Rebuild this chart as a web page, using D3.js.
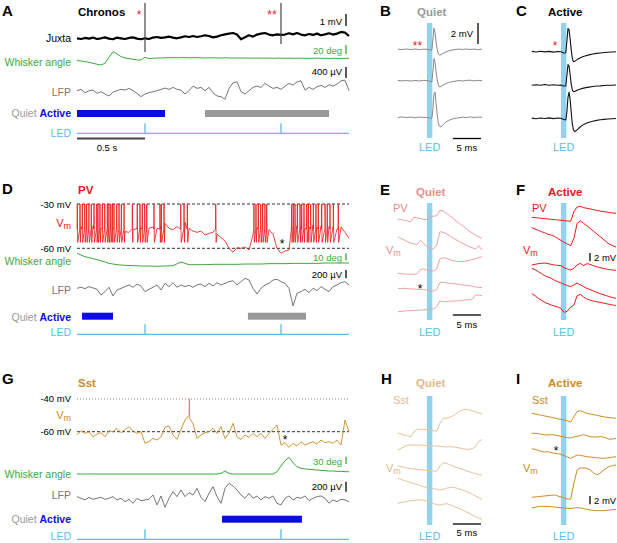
<!DOCTYPE html>
<html>
<head>
<meta charset="utf-8">
<script src="https://cdn.jsdelivr.net/npm/d3@7"></script>
<style>
  body { margin: 0; background: #fff; }
  text { font-family: "Liberation Sans", Arial, sans-serif; }
</style>
</head>
<body>
<script>
// ---------- long recordings (2 s, uniformly sampled) ----------
// A: Chronos juxtacellular
const juxtaMv = [0,-0.06,0.03,-0.03,0.06,-0.06,0,0.08,-0.03,-0.08,0.06,0,-0.06,0.03,0.08,-0.03,-0.08,0,-0.06,0.06,
  0.11,0.03,0.08,0.14,0.06,0,0.08,0.17,0.11,0.19,0.11,0.17,0.25,0.19,0.08,0.14,0.25,0.33,0.39,0.44,
  0.31,-0.08,0.08,0.25,0.14,0.31,0.39,0.44,0.31,0.25,0.33,0.28,0.31,0.42,0.33,0.44,0.31,0.25,0.36,0.28,
  0.39,0.25,0.33,0.42,0.31,0.39,0.53,0.47,0.19];
const juxtaSpikeS = [0.5, 1.5];
const juxtaSpikePeak = [2.94, 2.94];
const juxtaSpikeTrough = [-1.14, -0.48];
const whiskerA = [-5.2,-5.9,-7.4,-8.9,-11.1,-13.3,-14.8,-11.1,2.2,14.8,9.6,3.7,0.7,-0.7,-2.2,-3.7,-3.7,2.2,-0.7,0,0.7,
  0.7,1.1,1.5,1.5,1.1,1.5,1.5,1.1,1.1,1.5,1.1,0.7,1.1,1.1,0.7,0.7,1.1,0.7,0.7,0.4,
  0.7,0.7,0.4,0.4,0.7,0.4,0.4,0.4,0,0.4,0.4,0,0.4,0,0,0.4,0,0,0,0.4,0,0,-0.4,0,0,-0.4,0,0];
const lfpA = [36,84,-36,36,60,-60,0,-84,-156,-12,36,84,60,120,36,-60,-180,-84,-36,0,
  36,84,132,84,156,84,60,-84,36,204,120,156,36,156,-36,-156,-180,-276,120,324,
  360,0,-84,36,156,204,156,300,204,120,156,84,204,300,240,360,396,60,156,84,
  180,228,156,252,204,276,396,420,36];
const activeA = [[0, 0.647]];
const quietA = [[0.941, 1.853]];

// D: PV whole-cell
const pvVm = [-46.5,-45.3,-47.6,-46.0,-44.7,-47.6,-46.5,-45.6,-48.3,-46.5,-45.3,-47.1,-48.7,-49.2,-47.6,-46.5,-46.0,-47.4,-46.5,-45.6,
  -46.5,-44.7,-43.1,-46.5,-47.4,-45.3,-46.0,-42.4,-46.5,-48.3,-49.2,-48.3,-51.0,-49.9,-49.2,-50.5,-52.8,-55.0,-60.0,-62.7,
  -59.6,-60.0,-59.1,-61.1,-51.0,-46.0,-45.3,-46.5,-47.4,-50.5,-60.0,-63.4,-61.8,-61.1,-46.5,-44.7,-45.3,-46.5,-45.6,-44.2,
  -46.0,-44.9,-46.5,-45.3,-46.0,-46.9,-45.6,-49.2,-53.2];
const pvSpikeS = [0.002,0.022,0.039,0.057,0.071,0.088,0.105,0.125,0.145,0.154,0.169,0.186,0.204,0.223,0.235,0.248,0.260,0.272,0.292,0.309,0.326,0.346,
  0.407,0.443,0.463,0.480,0.498,0.513,0.566,0.610,0.620,0.640,0.763,0.787,0.811,1.020,
  1.301,1.316,1.333,1.351,1.365,1.382,1.395,
  1.578,1.590,1.603,1.620,1.640,1.652,1.669,1.689,1.701,1.718,1.738,1.757,1.774,1.799,1.824,1.840,1.860,1.885,1.921];
const pvSpikeThreshold = -47;
const pvSpikePeak = -30;
const pvSpikeTrough = -56;
const whiskerD = [13.2,8.6,5.9,3.2,-0.5,-2.3,-3.2,-3.6,-4.1,-4.1,-4.5,-4.1,-3.6,1.4,-2.3,-2.3,-2.3,-1.8,-1.8,-1.8,
  -1.8,-1.4,-1.4,-1.4,-0.9,-0.9,-0.9,-0.5,-0.5,-0.5,-0.5,0,0,0,0];
const lfpD = [0,24,-8,40,8,-24,-160,-80,24,-184,-40,0,40,80,24,104,56,-80,-24,24,
  80,-40,120,40,136,24,80,40,72,24,80,104,40,120,56,136,80,120,160,184,
  80,160,240,200,0,-136,0,80,120,200,216,160,120,0,-424,-120,-80,-24,-104,0,
  -56,40,-24,-80,40,80,136,160,80];
const activeD = [[0.037, 0.265]];
const quietD = [[1.257, 1.684]];

// G: Sst whole-cell
const sstVm = [-62.0,-59.4,-61.0,-60.0,-63.1,-61.4,-60.6,-63.1,-59.4,-60.0,-58.0,-60.6,-58.6,-56.9,-59.4,-61.0,-60.0,-67.1,-66.1,-64.1,
  -65.1,-63.1,-57.3,-56.5,-62.0,-64.7,-58.6,-52.9,-50.0,-54.9,-64.1,-62.0,-60.6,-60.0,-58.0,-61.0,-56.9,-64.1,-61.0,-54.9,
  -63.1,-64.7,-62.0,-63.5,-61.0,-63.1,-61.0,-64.1,-61.0,-58.6,-55.9,-68.2,-66.7,-69.6,-67.1,-68.8,-66.1,-68.2,-67.1,-66.1,
  -67.6,-65.1,-66.7,-66.1,-67.1,-65.1,-68.2,-52.9,-60.0];
const sstSpikeS = [0.826];
const sstSpikeThreshold = -50;
const sstSpikePeak = -40;
const sstSpikeTrough = -52;
const whiskerG = [0.3,0,0,0.3,0,0,0,0,-0.3,0,0,0,0,0,0,0,-0.3,0,0,0,
  0,0,0,-0.3,0,0,0,0,0,-0.3,0,0,0,0,0,0,2.7,12.3,2.7,0,
  0,0,0,0,0,0,0,0,0,0,9.5,32.7,54.6,68.2,46.4,30.0,23.2,20.5,19.1,17.7,
  16.4,15.0,13.6,12.3,12.3,10.9,10.9,9.5,9.5];
const lfpG = [33,0,-33,20,-20,0,20,-20,0,33,-33,0,-67,-20,-100,0,-47,-33,-20,67,
  -133,47,-180,0,133,33,167,33,113,67,200,20,-67,100,233,33,-100,200,300,247,
  167,67,0,100,0,47,-33,33,0,47,-100,-133,0,47,-33,20,0,47,-47,0,
  33,47,0,-100,-33,-67,-20,-33,-67];
const activeG = [[1.066, 1.654]];
const quietG = [];

const ledPulseS = [0.5, 1.5];

// ---------- evoked spikes (B, C), ms relative to LED onset ----------
const spikeMs = [-5.4,-4.6,-3.8,-3.0,-2.2,-1.4,-0.6,0,0.5,0.9,1.1,1.3,1.5,1.7,1.9,2.1,2.3,2.6,3.0,3.5,4.0,4.6,5.2,5.9,6.6,7.3,8.0,8.7,9.4,10.2];
const quietSpikes = [
  [0.02,-0.03,0.03,-0.02,0.03,-0.03,0.02,0,-0.05,-0.08,0.9,2.0,1.6,0.7,0.0,-0.45,-0.57,-0.5,-0.38,-0.25,-0.15,-0.08,-0.03,0.02,-0.02,0.03,-0.02,0.02,-0.03,0.02],
  [0.03,-0.02,0.02,-0.03,0.02,-0.02,0.03,0,-0.05,-0.1,0.8,2.1,1.75,0.85,0.1,-0.4,-0.6,-0.55,-0.4,-0.28,-0.17,-0.1,-0.05,0.02,-0.03,0.02,0.05,-0.02,0.03,0.01],
  [-0.02,0.03,-0.02,0.02,-0.03,0.02,-0.02,0,-0.06,-0.1,0.7,2.2,2.4,1.3,0.3,-0.5,-0.85,-0.9,-0.7,-0.45,-0.3,-0.18,-0.1,-0.05,0.02,-0.02,0.03,-0.02,0.02,0.0]
];
const activeSpikes = [
  [0.03,-0.03,0.04,-0.02,0.03,-0.04,0.02,0,-0.12,-0.1,1.0,2.2,2.1,1.2,0.2,-0.6,-0.95,-0.9,-0.75,-0.6,-0.48,-0.38,-0.3,-0.22,-0.16,-0.12,-0.08,-0.05,-0.03,0.0],
  [-0.03,0.03,-0.02,0.04,-0.03,0.02,-0.03,0,-0.1,-0.08,0.9,1.95,1.8,1.0,0.1,-0.45,-0.64,-0.6,-0.5,-0.4,-0.32,-0.25,-0.2,-0.15,-0.1,-0.08,-0.05,-0.03,-0.02,0.0],
  [0.02,-0.04,0.03,-0.02,0.04,-0.03,0.03,0,-0.12,-0.15,0.6,2.0,2.5,1.8,0.6,-0.5,-1.1,-1.27,-1.1,-0.85,-0.65,-0.5,-0.38,-0.28,-0.2,-0.14,-0.1,-0.06,-0.04,-0.02]
];

// ---------- evoked PSPs (E, F, H, I), mV relative to trace start ----------
const pspMs = [-5.4,-4.8,-4.2,-3.6,-3.0,-2.4,-1.8,-1.2,-0.6,0,0.6,1.2,1.8,2.4,3.0,3.6,4.2,4.8,5.4,6.0,6.6,7.2,7.8,8.4,9.0,9.6,10.2];
const pvQuiet = [
  [0,-0.16,-0.32,-0.48,-0.64,0.48,0.24,0.08,-0.08,-0.16,0.72,0.64,0.8,2.08,1.92,1.36,0.8,0.16,-0.48,-1.04,-1.6,-2.24,-2.88,-3.36,-3.84,-4.32,-4.64],
  [0,-0.4,-0.8,-1.2,-1.52,-1.76,-1.84,-0.88,-1.6,-2.4,-2.8,-2.96,-2.0,1.2,1.04,0.72,0.24,-0.24,-0.72,-1.2,-1.6,-2.0,-2.32,-2.64,-2.96,-2.16,-3.2],
  [0,-0.08,-0.16,-0.24,-0.24,-0.24,-0.08,0.88,1.04,0.72,0.56,0.56,1.04,3.44,3.76,3.6,3.28,3.04,2.88,2.8,2.8,2.96,3.12,3.28,3.44,3.76,4.0],
  [0,-0.08,0,-0.08,-0.16,-0.16,-0.24,-0.24,-0.32,-0.4,-0.56,-0.64,-0.32,1.36,1.44,1.28,1.2,1.12,1.04,0.96,0.8,0.72,0.64,0.48,0.32,0.24,0.16],
  [0,0.08,0.16,0.24,0.24,0.32,0.32,0.4,0.4,0.48,0.56,0.64,1.2,2.56,2.4,2.4,2.48,2.56,2.56,2.64,2.72,2.8,2.88,3.04,4.0,4.0,3.84]
];
const pvActive = [
  [0,-0.08,-0.16,-0.24,-0.32,-0.4,-0.48,-0.56,-0.64,-0.72,-0.8,-0.88,-0.96,1.36,2.48,2.64,2.32,2.16,2.0,1.84,1.68,1.52,1.36,1.28,1.12,1.04,0.96],
  [0,-0.32,-0.64,-0.96,-1.2,-1.6,-1.76,-2.08,-2.56,-3.04,-3.52,-3.92,-4.32,-2.56,1.04,1.6,1.04,0.48,-0.16,-0.8,-1.44,-2.08,-2.72,-3.36,-4.0,-4.32,-4.64],
  [0,0.16,0.32,0.4,0.48,0.32,0.16,0,-0.08,-0.16,-0.64,-0.96,-1.2,-0.8,0,0.4,-0.16,0.32,0.16,-0.16,-0.4,-0.64,-0.8,-0.96,-1.12,-1.2,-1.28],
  [0,-0.32,-0.8,-1.28,-1.76,-2.08,-2.4,-2.88,-3.2,-3.52,-3.84,-4.16,-4.4,-4.0,-3.52,-4.0,-4.4,-4.8,-5.12,-5.44,-5.76,-6.08,-6.32,-6.56,-6.8,-7.04,-7.2],
  [0,-0.48,-1.12,-1.6,-2.08,-2.4,-2.72,-2.96,-3.2,-3.52,-4.48,-4.16,-3.2,-2.72,-0.48,-0.16,-0.8,-1.28,-1.52,-1.76,-1.92,-2.08,-2.24,-2.4,-2.56,-2.72,-2.8]
];
const sstQuiet = [
  [0,-0.16,-0.4,-0.64,-0.8,0.4,0.96,0.96,0.96,0.88,0.8,0.64,0.48,2.4,3.6,3.6,3.84,4.16,4.64,5.28,5.6,5.76,5.6,5.36,5.12,4.88,4.64],
  [0,0.4,0.8,1.12,1.2,1.2,1.12,1.2,1.12,1.04,0.96,0.96,0.96,0.88,0.8,0.72,0.8,0.72,0.64,0.48,0.32,0.16,0.16,0.32,0.8,2.0,2.56],
  [0,-0.16,-0.32,-0.48,-0.64,-0.72,-0.8,-0.88,-0.96,-1.04,-1.12,-1.2,-1.28,0,0.8,0.64,0.32,0,-0.32,-0.56,-0.8,-1.12,-1.36,-1.6,-1.84,-2.0,-2.16],
  [0,-0.24,-0.56,-0.8,-1.04,-1.28,-1.52,-1.76,-2.0,-2.16,-2.32,-2.48,-2.64,-2.8,-2.64,-2.4,-2.16,-2.16,-2.32,-2.56,-2.8,-3.12,-3.44,-3.84,-4.24,-4.64,-5.04],
  [0,0.16,0.32,0.48,0.64,0.72,0.8,0.8,0.72,0.48,0.16,-0.08,-0.32,-0.4,-0.24,-0.08,-0.32,-0.64,-0.96,-1.28,-1.6,-2.0,-2.4,-2.8,-3.2,-3.52,-3.84]
];
const sstActive = [
  [0,-0.16,-0.32,-0.48,-0.64,-0.8,-0.96,-1.12,-1.28,-1.44,-1.6,-1.84,-2.08,-0.8,0.4,0.64,0.32,0,-0.16,-0.32,-0.48,-0.64,-0.8,-0.96,-1.04,-1.12,-1.2],
  [0,0,-0.08,-0.24,-0.4,-0.4,-0.32,-0.4,-0.56,-0.72,-0.88,-1.04,-1.12,-0.88,-0.72,-0.56,-0.32,-0.56,-0.8,-0.88,-0.88,-0.8,-0.88,-1.12,-1.44,-1.36,-1.2],
  [0,-0.16,-0.4,-0.64,-0.8,-0.72,-0.96,-1.12,-1.2,-1.36,-1.68,-2.0,-2.32,-1.92,-1.52,-1.6,-1.76,-1.92,-2.0,-2.08,-2.16,-2.24,-2.32,-2.24,-2.16,-2.0,-1.92],
  [0,0.08,0.16,0.24,0.32,0.4,0.48,0.56,0.32,0.08,-0.16,-0.4,-0.48,3.36,6.56,7.04,7.04,6.96,6.56,5.92,5.36,5.76,6.4,6.96,7.44,7.6,7.76],
  [0,0.16,0.32,0.4,0.4,0.4,0.32,0.24,0.16,0.08,0,-0.08,-0.16,0,0.08,0,-0.16,-0.32,-0.48,-0.56,-0.64,-0.64,-0.64,-0.56,-0.48,-0.4,-0.32]
];

// ---------- colours ----------
const green = "#3aab3a", blue = "#0c0ce6", ledCol = "#5dbde8", ledFill = "#93d2ee";
const starRed = "#e5202a", pvRed = "#e8161b", pvPale = "#f3a0a0", pvPaleText = "#f08c8c";
const sstCol = "#cd8a26", sstPale = "#e3c39a", sstPaleText = "#e2b98a";
const lfpCol = "#666";

const svg = d3.select("body").append("svg").attr("width", 617).attr("height", 543);
const xLong = d3.scaleLinear().domain([0, 2]).range([77, 349]);
const secs = n => d3.range(n).map(i => i * 2 / (n - 1));

function label(x, y, s, o = {}) {
  return svg.append("text")
    .attr("x", x).attr("y", y)
    .attr("dominant-baseline", "central")
    .attr("text-anchor", o.anchor || "start")
    .attr("font-size", o.size || 10.5)
    .attr("font-weight", o.bold ? "bold" : null)
    .attr("fill", o.color || "#000")
    .text(s);
}
function star(x, y, s, color) {
  svg.append("text").attr("x", x).attr("y", y + 7).attr("text-anchor", "middle")
    .attr("font-size", 12).attr("fill", color).text(s);
}
function vmLabel(x, y, color, anchor) {
  const t = svg.append("text").attr("x", x).attr("y", y).attr("dominant-baseline", "central")
    .attr("text-anchor", anchor).attr("font-size", 11).attr("fill", color);
  t.append("tspan").text("V");
  t.append("tspan").attr("font-size", 9).attr("dy", 3).text("m");
}
function stateLabel(y) {
  const t = svg.append("text").attr("x", 71).attr("y", y).attr("dominant-baseline", "central")
    .attr("text-anchor", "end").attr("font-size", 10.5);
  t.append("tspan").attr("fill", "#999").text("Quiet ");
  t.append("tspan").attr("fill", blue).attr("font-weight", "bold").text("Active");
}
function line(x1, y1, x2, y2, color, w, dash) {
  svg.append("line").attr("x1", x1).attr("y1", y1).attr("x2", x2).attr("y2", y2)
    .attr("stroke", color).attr("stroke-width", w).attr("stroke-dasharray", dash || null);
}
function path(pts, x, y, color, w) {
  svg.append("path").datum(pts)
    .attr("fill", "none").attr("stroke", color).attr("stroke-width", w)
    .attr("stroke-linejoin", "round")
    .attr("d", d3.line().x(d => x(d[0])).y(d => y(d[1])));
}
function longTrace(vals, y, color, w) {
  const t = secs(vals.length);
  path(vals.map((v, i) => [t[i], v]), xLong, y, color, w);
}
// subthreshold samples plus spikes (threshold -> peak -> trough)
function withSpikes(vals, spikes, thr, peak, trough) {
  const t = secs(vals.length);
  const pts = vals.map((v, i) => [t[i], v]);
  spikes.forEach(s => pts.push([s - 0.0015, thr], [s, peak], [s + 0.003, trough]));
  return pts.sort((a, b) => a[0] - b[0]);
}
// vertical scale bar: v units of scale y, starting at top
function scaleBar(x, top, y, v, color) {
  line(x, top, x, top + Math.abs(y(0) - y(v)), color, 1.3);
}
function states(active, quiet, top) {
  active.forEach(d => svg.append("rect").attr("x", xLong(d[0])).attr("y", top)
    .attr("width", xLong(d[1]) - xLong(d[0])).attr("height", 7).attr("fill", blue));
  quiet.forEach(d => svg.append("rect").attr("x", xLong(d[0])).attr("y", top)
    .attr("width", xLong(d[1]) - xLong(d[0])).attr("height", 7).attr("fill", "#999"));
}
function ledRow(base, labelY) {
  line(xLong(0), base, xLong(2), base, ledCol, 1.3);
  ledPulseS.forEach(t => line(xLong(t), base, xLong(t), base - 10, ledCol, 1.3));
  label(71, labelY, "LED", { anchor: "end", color: ledCol });
}

// ================= Panel A =================
label(2, 10, "A", { size: 15, bold: true });
label(78, 12, "Chronos", { size: 11.5, bold: true });
star(139, 12, "*", starRed);
star(272, 12, "**", starRed);

const yJuxta = d3.scaleLinear().domain([0, 1]).range([38.3, 26.3]);
longTrace(juxtaMv, yJuxta, "#000", 2.2);
juxtaSpikeS.forEach((t, i) => line(xLong(t), yJuxta(juxtaSpikePeak[i]), xLong(t), yJuxta(juxtaSpikeTrough[i]), "#444", 1.2));
label(71, 38, "Juxta", { anchor: "end" });
label(342, 21, "1 mV", { anchor: "end", size: 9.5 });
scaleBar(346, 14, yJuxta, 1, "#000");

const yWhiskA = d3.scaleLinear().domain([0, 20]).range([58.3, 49.3]);
longTrace(whiskerA, yWhiskA, green, 1);
label(71, 62, "Whisker angle", { anchor: "end", color: green });
label(342, 50.5, "20 deg", { anchor: "end", size: 9.5, color: green });
scaleBar(346, 45, yWhiskA, 20, green);

const yLfpA = d3.scaleLinear().domain([0, 400]).range([91.7, 80.7]);
longTrace(lfpA, yLfpA, lfpCol, 0.9);
label(71, 92, "LFP", { anchor: "end", color: "#777" });
label(342, 71.5, "400 \u00b5V", { anchor: "end", size: 9.5 });
scaleBar(346, 67, yLfpA, 400, "#000");

stateLabel(113);
states(activeA, quietA, 110);
ledRow(133.3, 133);
line(xLong(0), 138.5, xLong(0.5), 138.5, "#444", 2);
label(107, 147.5, "0.5 s", { anchor: "middle", size: 9.5 });

// ================= Panel D =================
label(2, 188.5, "D", { size: 15, bold: true });
label(78, 190, "PV", { size: 11.5, bold: true, color: pvRed });
const yPV = d3.scaleLinear().domain([-60, -30]).range([248.3, 204]);
line(77, yPV(-30), 349, yPV(-30), "#333", 1, "3,2");
line(77, yPV(-60), 349, yPV(-60), "#333", 1, "3,2");
path(withSpikes(pvVm, pvSpikeS, pvSpikeThreshold, pvSpikePeak, pvSpikeTrough), xLong, yPV, pvRed, 0.8);
label(71, 204, "-30 mV", { anchor: "end", size: 9.5 });
label(71, 248, "-60 mV", { anchor: "end", size: 9.5 });
vmLabel(71, 223, pvRed, "end");
star(282, 241, "*", "#000");

const yWhiskD = d3.scaleLinear().domain([0, 10]).range([263, 255.7]);
longTrace(whiskerD, yWhiskD, green, 1);
label(71, 261, "Whisker angle", { anchor: "end", color: green });
label(342, 257, "10 deg", { anchor: "end", size: 9.5, color: green });
scaleBar(346, 253.3, yWhiskD, 10, green);

const yLfpD = d3.scaleLinear().domain([0, 200]).range([288.3, 280]);
longTrace(lfpD, yLfpD, lfpCol, 0.9);
label(71, 290, "LFP", { anchor: "end", color: "#777" });
label(342, 274, "200 \u00b5V", { anchor: "end", size: 9.5 });
scaleBar(346, 270, yLfpD, 200, "#000");

stateLabel(316.7);
states(activeD, quietD, 312.7);
ledRow(334.3, 331.7);

// ================= Panel G =================
label(2, 378.5, "G", { size: 15, bold: true });
label(78, 383, "Sst", { size: 11.5, bold: true, color: sstCol });
const ySst = d3.scaleLinear().domain([-60, -40]).range([431.7, 399]);
line(77, ySst(-40), 349, ySst(-40), "#888", 1, "1,2");
line(77, ySst(-60), 349, ySst(-60), "#333", 1, "3,2");
path(withSpikes(sstVm, sstSpikeS, sstSpikeThreshold, sstSpikePeak, sstSpikeTrough), xLong, ySst, sstCol, 0.9);
label(71, 398.5, "-40 mV", { anchor: "end", size: 9.5 });
label(71, 431.7, "-60 mV", { anchor: "end", size: 9.5 });
vmLabel(71, 415, sstCol, "end");
star(285, 437, "*", "#000");

const yWhiskG = d3.scaleLinear().domain([0, 30]).range([474, 466.7]);
longTrace(whiskerG, yWhiskG, green, 1);
label(71, 474, "Whisker angle", { anchor: "end", color: green });
label(342, 461, "30 deg", { anchor: "end", size: 9.5, color: green });
scaleBar(346, 456.7, yWhiskG, 30, green);

const yLfpG = d3.scaleLinear().domain([0, 200]).range([498.3, 488.3]);
longTrace(lfpG, yLfpG, lfpCol, 0.9);
label(71, 495, "LFP", { anchor: "end", color: "#777" });
label(342, 486.7, "200 \u00b5V", { anchor: "end", size: 9.5 });
scaleBar(346, 481.7, yLfpG, 200, "#000");

stateLabel(519);
states(activeG, quietG, 515.7);
ledRow(539.3, 536);

// ================= short-window panels =================
const xLeft = d3.scaleLinear().domain([-5.4, 10.2]).range([397.8, 482]);
const xRight = xLeft.copy().range([531.8, 616]);

function drawLedBar(x, top, bottom, labelY) {
  svg.append("rect").attr("x", x(0)).attr("y", top).attr("width", x(1) - x(0))
    .attr("height", bottom - top).attr("fill", ledFill);
  label(x(0.5), labelY, "LED", { anchor: "middle", size: 11, color: ledCol });
}
function stack(traces, times, x, bases, pxPerMv, color, w) {
  traces.forEach((vals, k) => {
    const y = d3.scaleLinear().domain([0, 1]).range([bases[k], bases[k] - pxPerMv]);
    path(vals.map((v, i) => [times[i], v]), x, y, color, w);
  });
}
function msBar(y, textY) {
  line(xLeft(4.8), y, xLeft(10), y, "#000", 1.3);
  label((xLeft(4.8) + xLeft(10)) / 2, textY, "5 ms", { anchor: "middle", size: 9.5 });
}

// B / C
label(380, 10, "B", { size: 15, bold: true });
label(417, 12, "Quiet", { size: 11.5, bold: true, color: "#999" });
drawLedBar(xLeft, 23, 138, 147);
stack(quietSpikes, spikeMs, xLeft, [49.3, 80.7, 117.3], 10.5, "#8a8a8a", 1);
star(417.5, 43, "**", starRed);
label(473, 33, "2 mV", { anchor: "end", size: 9.5 });
line(478, 23, 478, 23 + 2 * 10.5, "#000", 1.3);
msBar(138.5, 147.5);

label(516, 10, "C", { size: 15, bold: true });
label(548, 12, "Active", { size: 11.5, bold: true });
drawLedBar(xRight, 23, 138, 147);
stack(activeSpikes, spikeMs, xRight, [51.7, 85, 118.3], 10.5, "#111", 1.1);
star(555, 43, "*", starRed);

// E / F
const pspPx = 4.17;
label(380, 189.5, "E", { size: 15, bold: true });
label(416, 191.7, "Quiet", { size: 11.5, bold: true, color: pvPaleText });
label(393, 208.3, "PV", { size: 11, color: pvPaleText });
vmLabel(386, 250, pvPaleText, "start");
drawLedBar(xLeft, 203, 320, 332);
stack(pvQuiet, pspMs, xLeft, [219, 236.7, 273.3, 288.3, 311.7], pspPx, pvPale, 1);
star(420, 286, "*", "#000");
msBar(315, 324.5);

label(516, 189.5, "F", { size: 15, bold: true });
label(548, 191.7, "Active", { size: 11.5, bold: true, color: pvRed });
label(532, 208.3, "PV", { size: 11, color: pvRed });
vmLabel(523, 250, pvRed, "start");
drawLedBar(xRight, 203, 320, 332);
stack(pvActive, pspMs, xRight, [217.3, 227.7, 265, 268.3, 293.7], pspPx, pvRed, 1);
line(590, 253, 590, 253 + 2 * pspPx, "#000", 1.3);
label(594, 257.5, "2 mV", { size: 9.5 });

// H / I
label(381, 378.5, "H", { size: 15, bold: true });
label(416, 382.7, "Quiet", { size: 11.5, bold: true, color: sstPaleText });
label(393, 400, "Sst", { size: 11, color: sstPaleText });
vmLabel(386, 468, sstPaleText, "start");
drawLedBar(xLeft, 396, 525, 536);
stack(sstQuiet, pspMs, xLeft, [433.3, 450, 466, 478.3, 503.3], pspPx, sstPale, 1);
msBar(524, 532);

label(516, 378.5, "I", { size: 15, bold: true });
label(548, 382.7, "Active", { size: 11.5, bold: true, color: sstCol });
label(532, 400, "Sst", { size: 11, color: sstCol });
vmLabel(523, 468, sstCol, "start");
drawLedBar(xRight, 396, 525, 536);
stack(sstActive, pspMs, xRight, [413.3, 433.3, 448.7, 497.3, 508], pspPx, sstCol, 1);
star(556, 448, "*", "#000");
line(590, 496, 590, 496 + 2 * pspPx, "#000", 1.3);
label(594, 500.5, "2 mV", { size: 9.5 });
</script>
</body>
</html>
